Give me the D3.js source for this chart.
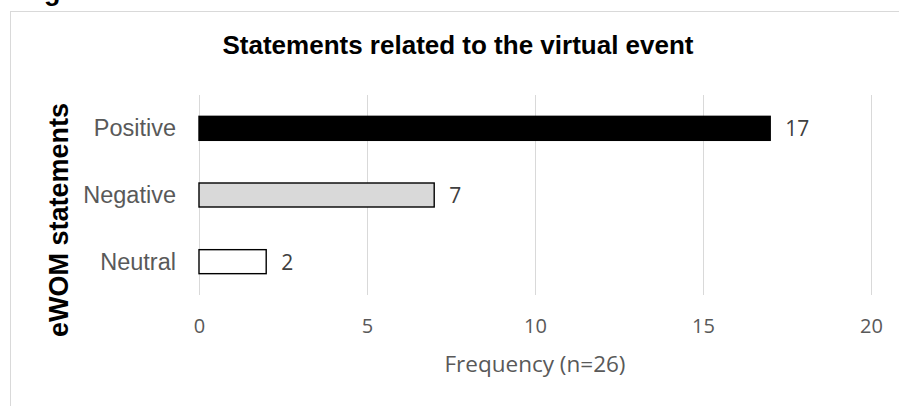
<!DOCTYPE html>
<html>
<head>
<meta charset="utf-8">
<script src="https://cdn.jsdelivr.net/npm/d3@7"></script>
<style>
  html, body { margin: 0; padding: 0; background: #fff; }
  svg { display: block; }
</style>
</head>
<body>
<svg id="chart" width="899" height="406"></svg>
<script>
// ---- data ----
const categories = ["Positive", "Negative", "Neutral"];
const values = [17, 7, 2];
const fills = ["#000000", "#d9d9d9", "#ffffff"];
const xTicks = [0, 5, 10, 15, 20];
const titleText = "Statements related to the virtual event";
const captionText = "Figure 12: Statements related to the virtual event";
const yTitleText = "eWOM statements";
const xTitleText = "Frequency (n=26)";

const svg = d3.select("#chart");
const plot = { left: 199, right: 871, top: 95, bottom: 295 };

// caption (cut off at top of image, as in the source)
svg.append("text")
  .attr("x", 20).attr("y", -0.5)
  .attr("font-family", "Liberation Sans, Arial, sans-serif")
  .attr("font-weight", "bold").attr("font-size", 27)
  .attr("fill", "#000")
  .text(captionText);

// chart frame
svg.append("rect")
  .attr("x", 10.5).attr("y", 11.5)
  .attr("width", 900).attr("height", 400)
  .attr("fill", "#fff").attr("stroke", "#d9d9d9").attr("stroke-width", 1);

const x = d3.scaleLinear().domain([0, 20]).range([plot.left, plot.right]);
const y = d3.scaleBand().domain(categories).range([plot.top, plot.bottom])
  .paddingInner(0.64).paddingOuter(0.32);

// gridlines
svg.append("g").selectAll("line").data(xTicks).join("line")
  .attr("x1", d => Math.round(x(d)) + 0.5).attr("x2", d => Math.round(x(d)) + 0.5)
  .attr("y1", plot.top).attr("y2", plot.bottom)
  .attr("stroke", "#d9d9d9").attr("stroke-width", 1);

// x axis tick labels via d3 axis
const xAxis = d3.axisBottom(x).tickValues(xTicks).tickSize(0).tickPadding(0);
const gx = svg.append("g").attr("transform", `translate(0, 333)`).call(xAxis);
gx.select(".domain").remove();
gx.selectAll("text")
  .attr("dy", 0).attr("y", 0)
  .attr("font-family", "Open Sans, sans-serif").attr("font-size", 20)
  .attr("fill", "#595959");

// y axis category labels
const yAxis = d3.axisLeft(y).tickSize(0).tickPadding(0);
const gy = svg.append("g").attr("transform", `translate(176, 0)`).call(yAxis);
gy.select(".domain").remove();
gy.selectAll("text")
  .attr("x", 0).attr("dy", "0.34em")
  .attr("font-family", "Liberation Sans, Arial, sans-serif").attr("font-size", 23.5)
  .attr("fill", "#595959");

// bars
svg.append("g").selectAll("rect").data(categories).join("rect")
  .attr("x", x(0))
  .attr("y", d => y(d))
  .attr("width", (d, i) => x(values[i]) - x(0))
  .attr("height", y.bandwidth())
  .attr("fill", (d, i) => fills[i])
  .attr("stroke", "#000").attr("stroke-width", 1.4);

// value labels
svg.append("g").selectAll("text").data(categories).join("text")
  .attr("x", (d, i) => x(values[i]) + 15)
  .attr("y", d => y(d) + y.bandwidth() / 2 + 8)
  .attr("font-family", "Open Sans, sans-serif").attr("font-size", 21)
  .attr("fill", "#404040")
  .text((d, i) => values[i]);

// title
svg.append("text")
  .attr("x", (plot.left + plot.right) / 2 - 77).attr("y", 54)
  .attr("text-anchor", "middle")
  .attr("font-family", "Liberation Sans, Arial, sans-serif")
  .attr("font-weight", "bold").attr("font-size", 26)
  .attr("fill", "#000")
  .text(titleText);

// y axis title
svg.append("text")
  .attr("transform", `translate(68, 220) rotate(-90)`)
  .attr("text-anchor", "middle")
  .attr("font-family", "Liberation Sans, Arial, sans-serif")
  .attr("font-weight", "bold").attr("font-size", 27)
  .attr("fill", "#000")
  .text(yTitleText);

// x axis title
svg.append("text")
  .attr("x", (plot.left + plot.right) / 2).attr("y", 372)
  .attr("text-anchor", "middle")
  .attr("font-family", "Open Sans, sans-serif").attr("font-size", 22.5)
  .attr("fill", "#595959")
  .text(xTitleText);
</script>
</body>
</html>
